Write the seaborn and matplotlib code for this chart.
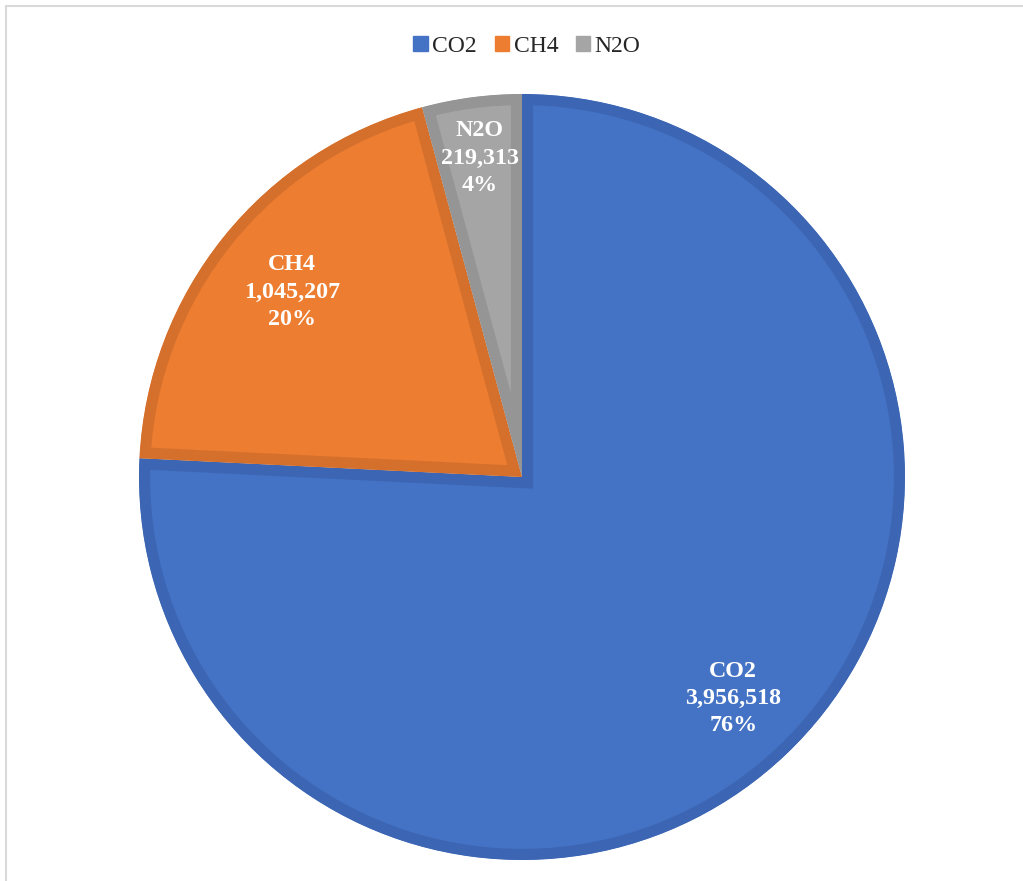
import matplotlib
matplotlib.use("Agg")
import matplotlib.pyplot as plt
from matplotlib.patches import Rectangle
import numpy as np
import seaborn as sns

# Emissions by gas
gases = ["CO2", "CH4", "N2O"]
emissions = [3956518, 1045207, 219313]
fill_colors = ["#4472C4", "#ED7D31", "#A5A5A5"]
edge_colors = ["#3C66B3", "#D5702C", "#959595"]
label_radius = [0.80, 0.77, 0.84]

sns.set_theme(style="white")
plt.rcParams["font.family"] = ["Liberation Serif", "DejaVu Serif"]

W, H = 1023, 881
fig = plt.figure(figsize=(W / 100, H / 100), dpi=100)

# chart-area frame (light grey), open to the right and bottom
fig.patches.append(Rectangle((6 / W, -0.1), 1.2, (H - 6) / H + 0.1,
                             transform=fig.transFigure, fill=False,
                             edgecolor="#D9D9D9", linewidth=1.5))

cx, cy, R = 522, 477, 383
ax = fig.add_axes([(cx - R) / W, (H - cy - R) / H, 2 * R / W, 2 * R / H])

palette = sns.color_palette(fill_colors)
wedges, _ = ax.pie(emissions, startangle=90, counterclock=False,
                   colors=palette, radius=1,
                   wedgeprops=dict(linewidth=16))
for w, ec in zip(wedges, edge_colors):
    w.set_edgecolor(ec)
    w.set_clip_on(True)
    w.set_clip_path(w)  # keep only the inner half of the outline

ax.set_xlim(-1, 1)
ax.set_ylim(-1, 1)
ax.set_aspect("auto")
ax.axis("off")

total = sum(emissions)
for w, g, v, r in zip(wedges, gases, emissions, label_radius):
    mid = np.deg2rad((w.theta1 + w.theta2) / 2)
    pct = v / total * 100
    ax.text(r * np.cos(mid), r * np.sin(mid),
            f"{g}\n{v:,}\n{pct:.0f}%",
            ha="center", va="center", color="white",
            fontsize=17.3, fontweight="bold", linespacing=1.38)

handles = [Rectangle((0, 0), 1, 1, color=c) for c in fill_colors]
fig.legend(handles, gases, loc="center", bbox_to_anchor=(527 / W, 1 - 46 / H),
           ncol=3, frameon=False, fontsize=17, handlelength=0.6,
           handleheight=0.6, handletextpad=0.2, columnspacing=0.75)

fig.savefig("out.png", dpi=100, facecolor="white")
